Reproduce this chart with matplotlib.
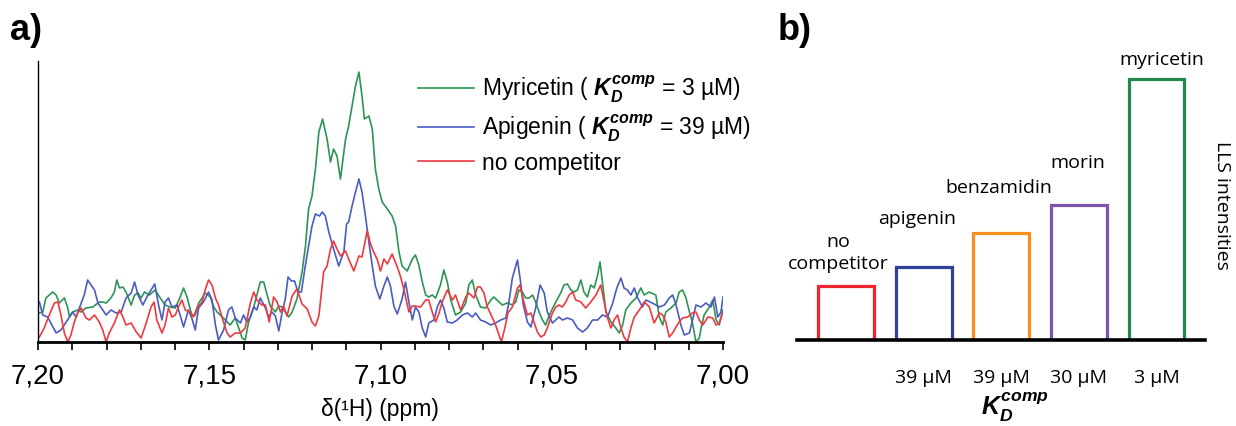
import numpy as np
import matplotlib
matplotlib.use("Agg")
import matplotlib.pyplot as plt
from matplotlib.ticker import MultipleLocator, FixedLocator
from matplotlib import font_manager

_names = {f.name for f in font_manager.fontManager.ttflist}
NARROW = 'Liberation Sans Narrow' if 'Liberation Sans Narrow' in _names else 'Liberation Sans'
NSIZE = 20 if NARROW == 'Liberation Sans Narrow' else 16.5

plt.rcParams['font.family'] = ['Liberation Sans', 'DejaVu Sans']
plt.rcParams['mathtext.fontset'] = 'custom'
plt.rcParams['mathtext.it'] = NARROW + ':italic:bold'
plt.rcParams['mathtext.rm'] = NARROW
plt.rcParams['mathtext.bf'] = NARROW + ':bold'

# ---------------- Panel a data: chemical shift (ppm) and intensity (a.u.) ----------------
myr_ppm = np.array([7.1996, 7.1986, 7.1977, 7.1957, 7.1947, 7.1938, 7.1923, 7.1913, 7.1908, 7.1899,
    7.1884, 7.1874, 7.1860, 7.1840, 7.1821, 7.1811, 7.1801, 7.1787, 7.1777, 7.1770,
    7.1762, 7.1752, 7.1743, 7.1728, 7.1718, 7.1708, 7.1699, 7.1689, 7.1675, 7.1665,
    7.1658, 7.1643, 7.1629, 7.1614, 7.1599, 7.1585, 7.1575, 7.1565, 7.1551, 7.1541,
    7.1531, 7.1521, 7.1512, 7.1497, 7.1487, 7.1477, 7.1468, 7.1453, 7.1439, 7.1424,
    7.1414, 7.1404, 7.1395, 7.1385, 7.1370, 7.1361, 7.1351, 7.1341, 7.1331, 7.1322,
    7.1307, 7.1297, 7.1287, 7.1278, 7.1268, 7.1258, 7.1244, 7.1229, 7.1219, 7.1210,
    7.1200, 7.1190, 7.1180, 7.1169, 7.1156, 7.1146, 7.1137, 7.1127, 7.1117, 7.1102,
    7.1093, 7.1083, 7.1073, 7.1063, 7.1054, 7.1047, 7.1034, 7.1024, 7.1015, 7.1005,
    7.0995, 7.0980, 7.0966, 7.0956, 7.0946, 7.0937, 7.0922, 7.0907, 7.0898, 7.0888,
    7.0878, 7.0868, 7.0859, 7.0849, 7.0839, 7.0825, 7.0815, 7.0805, 7.0795, 7.0781,
    7.0766, 7.0751, 7.0742, 7.0732, 7.0722, 7.0708, 7.0693, 7.0678, 7.0669, 7.0654,
    7.0644, 7.0630, 7.0615, 7.0605, 7.0596, 7.0586, 7.0576, 7.0566, 7.0556, 7.0547,
    7.0537, 7.0527, 7.0518, 7.0503, 7.0488, 7.0474, 7.0464, 7.0454, 7.0444, 7.0435,
    7.0425, 7.0415, 7.0406, 7.0396, 7.0386, 7.0376, 7.0366, 7.0359, 7.0352, 7.0342,
    7.0327, 7.0313, 7.0303, 7.0293, 7.0284, 7.0269, 7.0254, 7.0240, 7.0230, 7.0216,
    7.0196, 7.0186, 7.0176, 7.0167, 7.0152, 7.0137, 7.0128, 7.0118, 7.0108, 7.0098,
    7.0089, 7.0079, 7.0069, 7.0064, 7.0055, 7.0040, 7.0030, 7.0020, 7.0011, 7.0001])
myr_int = np.array([29, 30, 44, 50, 47, 39, 44, 34, 25, 30,
    32, 30, 34, 35, 40, 40, 39, 44, 50, 62,
    54, 55, 50, 37, 47, 49, 44, 50, 47, 50,
    52, 44, 37, 35, 34, 45, 54, 45, 27, 27,
    39, 44, 49, 45, 35, 30, 27, 22, 17, 24,
    14, 4, 2, 20, 35, 47, 60, 60, 47, 36,
    30, 36, 35, 30, 25, 30, 43, 70, 96, 133,
    146, 173, 210, 223, 203, 180, 193, 186, 163, 203,
    216, 236, 256, 270, 246, 223, 226, 213, 173, 153,
    140, 133, 126, 116, 90, 76, 71, 83, 87, 77,
    60, 47, 45, 47, 44, 57, 72, 60, 42, 27,
    30, 39, 57, 62, 47, 35, 34, 42, 45, 40,
    37, 39, 37, 40, 52, 50, 44, 44, 47, 40,
    30, 22, 17, 30, 40, 49, 57, 58, 52, 50,
    52, 62, 50, 45, 57, 54, 67, 80, 60, 30,
    20, 14, 9, 17, 32, 39, 44, 54, 47, 50,
    47, 25, 17, 30, 34, 39, 50, 52, 44, 30,
    19, 0, 4, 14, 27, 35, 42, 22, 17, 32])

api_ppm = np.array([7.1996, 7.1986, 7.1972, 7.1947, 7.1933, 7.1908, 7.1899, 7.1889, 7.1865, 7.1855,
    7.1835, 7.1825, 7.1801, 7.1787, 7.1772, 7.1757, 7.1743, 7.1728, 7.1718, 7.1708,
    7.1694, 7.1679, 7.1659, 7.1648, 7.1638, 7.1629, 7.1619, 7.1609, 7.1594, 7.1585,
    7.1575, 7.1561, 7.1551, 7.1541, 7.1531, 7.1517, 7.1502, 7.1492, 7.1482, 7.1473,
    7.1458, 7.1444, 7.1434, 7.1424, 7.1409, 7.1400, 7.1390, 7.1380, 7.1370, 7.1361,
    7.1351, 7.1336, 7.1327, 7.1317, 7.1307, 7.1297, 7.1287, 7.1278, 7.1270, 7.1260,
    7.1251, 7.1241, 7.1231, 7.1221, 7.1210, 7.1200, 7.1190, 7.1178, 7.1170, 7.1161,
    7.1151, 7.1137, 7.1122, 7.1107, 7.1099, 7.1093, 7.1083, 7.1073, 7.1063, 7.1054,
    7.1044, 7.1034, 7.1024, 7.1015, 7.1002, 7.0990, 7.0980, 7.0971, 7.0961, 7.0951,
    7.0937, 7.0927, 7.0917, 7.0907, 7.0898, 7.0888, 7.0878, 7.0868, 7.0859, 7.0844,
    7.0834, 7.0825, 7.0815, 7.0805, 7.0790, 7.0776, 7.0761, 7.0746, 7.0732, 7.0722,
    7.0708, 7.0693, 7.0678, 7.0664, 7.0649, 7.0634, 7.0625, 7.0615, 7.0600, 7.0591,
    7.0583, 7.0571, 7.0561, 7.0547, 7.0534, 7.0522, 7.0513, 7.0498, 7.0479, 7.0469,
    7.0454, 7.0439, 7.0425, 7.0410, 7.0396, 7.0381, 7.0366, 7.0352, 7.0337, 7.0322,
    7.0310, 7.0298, 7.0289, 7.0279, 7.0269, 7.0259, 7.0249, 7.0235, 7.0225, 7.0201,
    7.0186, 7.0171, 7.0157, 7.0147, 7.0137, 7.0123, 7.0113, 7.0098, 7.0089, 7.0079,
    7.0064, 7.0050, 7.0035, 7.0025, 7.0015, 7.0006, 7.0000])
api_int = np.array([40, 27, 25, 9, 12, 25, 30, 25, 47, 62,
    52, 39, 27, 32, 29, 30, 44, 49, 60, 47,
    37, 47, 58, 37, 22, 40, 44, 35, 37, 27,
    15, 32, 24, 12, 34, 40, 50, 42, 17, 2,
    12, 32, 35, 24, 19, 27, 20, 25, 35, 32,
    44, 34, 25, 30, 26, 11, 30, 43, 65, 61,
    61, 50, 50, 73, 96, 116, 128, 126, 130, 126,
    110, 93, 76, 90, 118, 120, 136, 150, 163, 150,
    126, 100, 76, 56, 43, 56, 65, 56, 36, 28,
    43, 60, 40, 22, 35, 30, 14, 5, 19, 22,
    35, 42, 34, 20, 19, 22, 27, 29, 25, 29,
    22, 20, 17, 19, 22, 24, 40, 64, 82, 60,
    37, 20, 15, 34, 57, 49, 30, 19, 25, 22,
    24, 22, 14, 10, 14, 22, 22, 27, 25, 39,
    54, 64, 54, 52, 47, 54, 44, 35, 42, 38,
    35, 37, 44, 47, 37, 17, 7, 9, 22, 37,
    35, 39, 35, 45, 25, 30, 45])

noc_ppm = np.array([7.1996, 7.1982, 7.1967, 7.1952, 7.1942, 7.1933, 7.1923, 7.1913, 7.1904, 7.1894,
    7.1884, 7.1874, 7.1860, 7.1850, 7.1835, 7.1821, 7.1811, 7.1801, 7.1792, 7.1777,
    7.1762, 7.1752, 7.1743, 7.1728, 7.1713, 7.1699, 7.1684, 7.1670, 7.1661, 7.1653,
    7.1638, 7.1629, 7.1619, 7.1609, 7.1599, 7.1590, 7.1580, 7.1570, 7.1556, 7.1546,
    7.1536, 7.1521, 7.1512, 7.1502, 7.1492, 7.1482, 7.1473, 7.1463, 7.1448, 7.1439,
    7.1424, 7.1409, 7.1395, 7.1380, 7.1370, 7.1361, 7.1346, 7.1336, 7.1325, 7.1312,
    7.1302, 7.1292, 7.1283, 7.1273, 7.1258, 7.1244, 7.1229, 7.1214, 7.1200, 7.1190,
    7.1180, 7.1166, 7.1156, 7.1146, 7.1137, 7.1127, 7.1117, 7.1102, 7.1093, 7.1078,
    7.1063, 7.1054, 7.1039, 7.1029, 7.1020, 7.1010, 7.1000, 7.0990, 7.0980, 7.0966,
    7.0951, 7.0942, 7.0932, 7.0917, 7.0907, 7.0898, 7.0883, 7.0868, 7.0859, 7.0849,
    7.0839, 7.0829, 7.0820, 7.0805, 7.0790, 7.0781, 7.0766, 7.0751, 7.0742, 7.0727,
    7.0717, 7.0708, 7.0698, 7.0688, 7.0673, 7.0664, 7.0654, 7.0647, 7.0637, 7.0628,
    7.0615, 7.0600, 7.0593, 7.0583, 7.0571, 7.0561, 7.0552, 7.0542, 7.0532, 7.0522,
    7.0513, 7.0498, 7.0488, 7.0479, 7.0469, 7.0459, 7.0449, 7.0439, 7.0430, 7.0415,
    7.0401, 7.0386, 7.0371, 7.0357, 7.0347, 7.0337, 7.0327, 7.0318, 7.0308, 7.0298,
    7.0289, 7.0279, 7.0269, 7.0259, 7.0244, 7.0230, 7.0215, 7.0201, 7.0186, 7.0176,
    7.0167, 7.0157, 7.0147, 7.0137, 7.0128, 7.0118, 7.0103, 7.0089, 7.0079, 7.0069,
    7.0059, 7.0044, 7.0030, 7.0020, 7.0011, 7.0001])
noc_int = np.array([5, 14, 27, 39, 40, 27, 9, 0, 7, 20,
    29, 34, 24, 22, 27, 20, 12, 0, 9, 19,
    32, 25, 17, 19, 10, 4, 19, 35, 40, 22,
    9, 17, 34, 25, 27, 35, 42, 32, 30, 25,
    34, 40, 52, 62, 57, 44, 37, 25, 9, 5,
    9, 9, 14, 39, 50, 42, 37, 37, 20, 45,
    40, 30, 36, 26, 46, 53, 38, 33, 20, 16,
    26, 70, 76, 93, 101, 93, 86, 91, 83, 71,
    86, 85, 111, 98, 90, 83, 71, 83, 78, 88,
    75, 66, 53, 30, 36, 36, 35, 42, 42, 30,
    20, 29, 40, 52, 42, 47, 32, 45, 49, 44,
    55, 55, 49, 35, 24, 17, 7, 0, 14, 29,
    35, 54, 57, 42, 27, 29, 20, 10, 5, 7,
    14, 29, 35, 37, 35, 40, 47, 50, 42, 40,
    34, 40, 47, 57, 40, 24, 14, 22, 27, 14,
    5, 0, 14, 25, 32, 40, 35, 19, 29, 27,
    20, 5, 9, 15, 20, 24, 25, 29, 30, 22,
    17, 25, 24, 17, 19, 29])

series_labels = ['Myricetin ( $K_D^{comp}$ = 3 µM)',
                 'Apigenin ( $K_D^{comp}$ = 39 µM)',
                 'no competitor']
series_colors = ['#2e9455', '#4a5cc0', '#ee3a3f']

x_ticks = [7.20, 7.15, 7.10, 7.05, 7.00]
x_ticklabels = ['7,20', '7,15', '7,10', '7,05', '7,00']

# ---------------- Panel b data ----------------
bar_names = ['no\ncompetitor', 'apigenin', 'benzamidin', 'morin', 'myricetin']
bar_values = [54, 73, 107, 135, 261]
bar_kd = ['', '39 µM', '39 µM', '30 µM', '3 µM']
bar_colors = ['#ee2430', '#2e429c', '#f7901e', '#7a55a8', '#1f8a4c']

# ---------------- Figure ----------------
W, H = 1236, 427
fig = plt.figure(figsize=(W / 100, H / 100), dpi=100)

# Panel a
axa = fig.add_axes([38 / W, (H - 343) / H, 685 / W, 281 / H])
handles = []
for ppm, inten, col, lab in [(myr_ppm, myr_int, series_colors[0], series_labels[0]),
                             (api_ppm, api_int, series_colors[1], series_labels[1]),
                             (noc_ppm, noc_int, series_colors[2], series_labels[2])]:
    ln, = axa.plot(ppm, inten, color=col, lw=1.2, label=lab)
    handles.append(ln)
axa.set_xlim(7.20, 7.00)
axa.set_ylim(0, 281)
for s in ['top', 'right']:
    axa.spines[s].set_visible(False)
axa.spines['left'].set_linewidth(1.0)
axa.spines['bottom'].set_linewidth(2.0)
axa.set_yticks([])
axa.xaxis.set_major_locator(FixedLocator(x_ticks))
axa.set_xticklabels(x_ticklabels)
axa.xaxis.set_minor_locator(MultipleLocator(0.01))
axa.tick_params(axis='x', which='both', direction='out', length=6, width=1.2,
                labelsize=20, pad=9)
axa.legend(handles=handles, loc='upper left', bbox_to_anchor=(418 / W, (H - 74) / H),
           bbox_transform=fig.transFigure, frameon=False,
           prop={'family': NARROW, 'size': NSIZE},
           handlelength=2.0 * 20 / NSIZE,
           handletextpad=0.35, labelspacing=0.33, borderpad=0, borderaxespad=0)
fig.text(380 / W, (H - 410) / H, 'δ(¹H) (ppm)', ha='center', va='center',
         fontsize=NSIZE, family=NARROW)
fig.text(10 / W, (H - 30) / H, 'a)', ha='left', va='center', fontsize=26, fontweight='bold')

# Panel b
axb = fig.add_axes([797 / W, (H - 341) / H, 408 / W, 301 / H])
xpos = np.arange(len(bar_values))
axb.bar(xpos, bar_values, width=0.72, fill=False, edgecolor=bar_colors, linewidth=2.3)
axb.set_xlim(-0.63, 4.625)
axb.set_ylim(0, 301)
for s in ['top', 'right', 'left']:
    axb.spines[s].set_visible(False)
axb.spines['bottom'].set_linewidth(2.6)
axb.spines['bottom'].set_zorder(5)
axb.set_yticks([])
axb.set_xticks(xpos)
axb.set_xticklabels(bar_kd, fontsize=14, family='Open Sans')
axb.tick_params(axis='x', length=0, pad=20)

name_x_shift = [-0.1, -0.08, -0.03, -0.01, 0.07]
name_h = [88, 122, 153, 178, 281]
for i, name in enumerate(bar_names):
    axb.text(xpos[i] + name_x_shift[i], name_h[i], name, ha='center', va='center',
             fontsize=14, family='Open Sans', linespacing=1.25)

fig.text(1015 / W, (H - 407) / H, '$K_D^{comp}$', ha='center', va='center', fontsize=18)
fig.text(1222 / W, (H - 205) / H, 'LLS intensities', ha='center', va='center',
         rotation=270, fontsize=14, family='Open Sans')
fig.text(778 / W, (H - 30) / H, 'b)', ha='left', va='center', fontsize=26, fontweight='bold')

fig.savefig('out.png', dpi=100)
